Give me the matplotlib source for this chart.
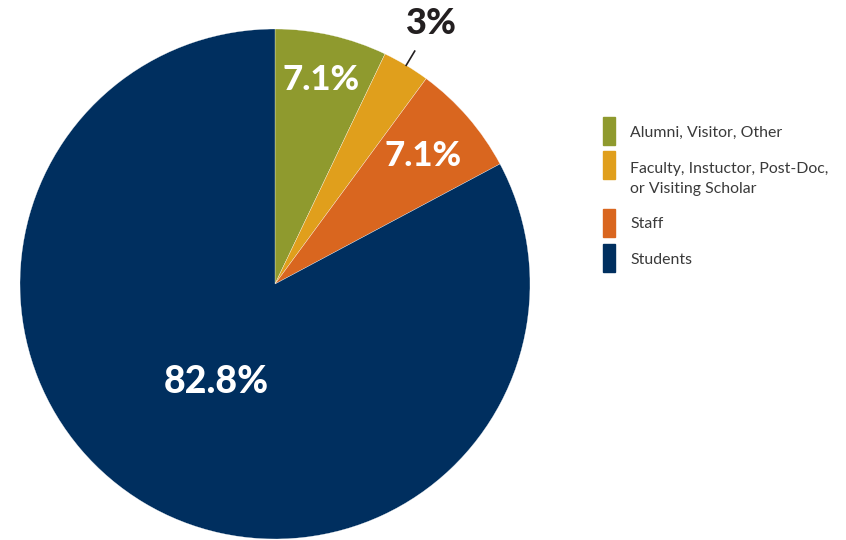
import numpy as np
import matplotlib.pyplot as plt
from matplotlib.patches import Rectangle

# data
categories = ['Alumni, Visitor, Other', 'Faculty, Instuctor, Post-Doc,\nor Visiting Scholar', 'Staff', 'Students']
shares = [7.1, 3.0, 7.1, 82.8]
pct_labels = ['7.1%', '3%', '7.1%', '82.8%']
colors = ['#8F9A2E', '#E09F1C', '#D9661F', '#002F5F']

fig = plt.figure(figsize=(8.46, 5.4), dpi=100)
ax = fig.add_axes([20 / 846, 1 / 540, 510 / 846, 510 / 540])

wedges, _ = ax.pie(shares, colors=colors, startangle=90, counterclock=False,
                   wedgeprops=dict(edgecolor='white', linewidth=0.2))
ax.set_xlim(-1, 1)
ax.set_ylim(-1, 1)
ax.set_aspect('equal')
ax.axis('off')

# label radius and size for each slice
label_r = [0.82, 1.19, 0.77, 0.45]
label_size = [25, 26, 25, 27]
for w, lab, r, fs, i in zip(wedges, pct_labels, label_r, label_size, range(4)):
    mid = np.deg2rad((w.theta1 + w.theta2) / 2)
    x, y = r * np.cos(mid), r * np.sin(mid)
    col = '#231F20' if i == 1 else 'white'
    ax.text(x, y, lab, ha='center', va='center', fontsize=fs, fontweight='black',
            color=col, family='Lato')
    if i == 1:
        ax.plot([1.0 * np.cos(mid), 1.065 * np.cos(mid)],
                [1.0 * np.sin(mid), 1.065 * np.sin(mid)], color='#231F20', lw=1.2)

# legend drawn by hand
patch_tops = [117, 151, 209, 244]
for cat, col, top in zip(categories, colors, patch_tops):
    fig.patches.append(Rectangle((603 / 846, 1 - (top + 28) / 540), 12 / 846, 28 / 540,
                                 transform=fig.transFigure, color=col))
    ty = top + (28 if '\n' in cat else 15.5)
    fig.text(630 / 846, 1 - ty / 540, cat, ha='left', va='center',
             fontsize=11.4, color='#3a3a3a', family='Lato', linespacing=1.6)

fig.savefig('out.png', dpi=100)
